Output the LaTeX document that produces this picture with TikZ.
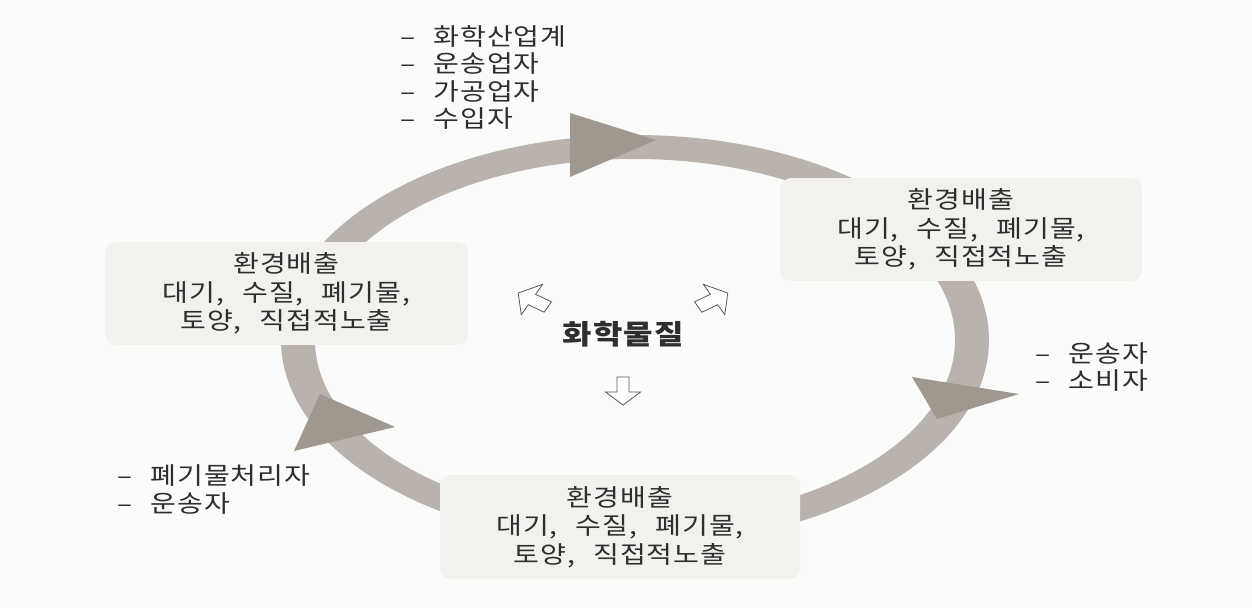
\documentclass[tikz,border=0pt]{standalone}
\usepackage{fontspec}
\setmainfont{Noto Sans CJK KR}[FakeStretch=1.17,LetterSpace=4,WordSpace=2.5]
\usepackage{tikz}
\usetikzlibrary{positioning}
\definecolor{paper}{HTML}{FBFBF9}
\definecolor{band}{HTML}{BAB3AD}
\definecolor{tip}{HTML}{A0978F}
\definecolor{boxfill}{HTML}{F3F1EE}
\definecolor{ink}{HTML}{2E2E2E}

\begin{document}
\begin{tikzpicture}[x=0.75pt,y=-0.75pt]
	\tikzstyle{emission}=[fill=boxfill,rounded corners=8pt,align=center,inner sep=0pt,text=ink,font=\fontsize{18}{21.5}\selectfont]
	\tikzstyle{actors}=[align=left,anchor=west,inner sep=0pt,text=ink,font=\fontsize{18}{20.4}\selectfont]
	\tikzset{hollowarrow/.pic={\draw[line width=0.6pt,draw=ink!80,fill=white] (14,0) -- (1,17.5) -- (1,6) -- (-14,6) -- (-14,-6) -- (1,-6) -- (1,-17.5) -- cycle;}}
	
	\useasboundingbox (0,0) rectangle (1252,607);
	\fill[paper] (0,0) rectangle (1252,607);
	
	% the cycle
	\fill[band,even odd rule] (635,340) ellipse [x radius=354,y radius=205] (635,340) ellipse [x radius=320,y radius=181];
	\fill[tip] (570,113) -- (656,140) -- (570,177) -- cycle;
	\fill[tip] (912,377) -- (1019,394) -- (937,419) -- cycle;
	\fill[tip] (294,451) -- (320,394) -- (395,427) -- cycle;
	
	\node[emission,minimum width=271.5pt,minimum height=77pt] (emit-right)  at (961,229.5) {환경배출\\대기, 수질, 폐기물,\\토양, 직접적노출};
	\node[emission,minimum width=272pt,minimum height=77pt]   (emit-left)   at (286.5,293.5) {환경배출\\대기, 수질, 폐기물,\\토양, 직접적노출};
	\node[emission,minimum width=270pt,minimum height=78pt]   (emit-bottom) at (620,527) {환경배출\\대기, 수질, 폐기물,\\토양, 직접적노출};
	
	\node[actors] (makers)    at (400,77.5) {– 화학산업계\\– 운송업자\\– 가공업자\\– 수입자};
	\node[actors] (users)     at (1035,367) {– 운송자\\– 소비자};
	\node[actors] (disposers) at (117,489.5) {– 폐기물처리자\\– 운송자};
	
	\node[text=ink,font=\fontsize{20.5}{23}\selectfont\bfseries] (chem) at (623,334) {화학물질};
	\pic[xscale=1.22,rotate=150] at (533,300) {hollowarrow};
	\pic[xscale=1.22,rotate=30]  at (713,300) {hollowarrow};
	\pic[rotate=-90]             at (623,391) {hollowarrow};
\end{tikzpicture}
\end{document}
